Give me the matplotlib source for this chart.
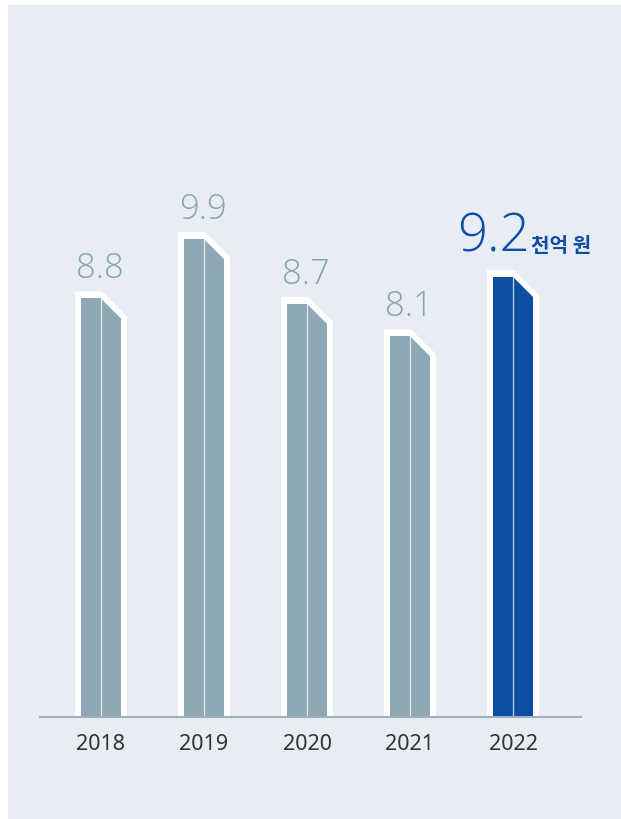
import matplotlib
matplotlib.use('Agg')
import matplotlib.pyplot as plt
from matplotlib.patches import Polygon, Rectangle
from matplotlib import font_manager as fm

# ---- data ----
years = ['2018', '2019', '2020', '2021', '2022']
values = [8.8, 9.9, 8.7, 8.1, 9.2]
value_labels = ['8.8', '9.9', '8.7', '8.1', '9.2']
unit_label = '천억 원'
y_floor = 1.05  # value at the axis line (axis does not start at zero)

# ---- style ----
BG = '#e8edf5'
GRAY = '#8fa8b5'
BLUE = '#0c4ea2'
LABEL_GRAY = '#8ba3b0'
LABEL_BLUE = '#0d4ea3'
AXIS = '#9fb0bd'


def _w(f):
    w = f.weight
    if isinstance(w, str):
        w = fm.weight_dict.get(w, 400)
    return w


def _normal_stretch(f):
    s = f.stretch
    if isinstance(s, str):
        return s == 'normal'
    return s == 500


def light_font():
    prefs = ['Noto Sans', 'Open Sans', 'Lato', 'Roboto', 'Inter']
    for fam in prefs:
        cands = []
        for f in fm.fontManager.ttflist:
            if f.name != fam or f.style != 'normal':
                continue
            fn = f.fname.lower()
            if 'condensed' in fn or 'narrow' in fn or 'italic' in fn:
                continue
            if not _normal_stretch(f):
                continue
            w = _w(f)
            if w < 400:
                cands.append((abs(w - 300), f.fname))
        if cands:
            cands.sort()
            return fm.FontProperties(fname=cands[0][1])
    return fm.FontProperties(family='DejaVu Sans', weight='light')


W, H, DPI = 621, 819, 100
fig = plt.figure(figsize=(W / DPI, H / DPI), dpi=DPI)
fig.patch.set_facecolor('white')
bg = Rectangle((8 / W, 0), 1 - 8 / W, 1 - 5 / H, transform=fig.transFigure,
               facecolor=BG, edgecolor='none', zorder=-10)
fig.add_artist(bg)

# axes layout in pixels
ax_left, ax_right, ax_base, ax_top = 40, 581, 717, 100
ax = fig.add_axes([ax_left / W, (H - ax_base) / H, (ax_right - ax_left) / W, (ax_base - ax_top) / H])
ax.set_facecolor('none')
ax.set_zorder(1)

SX = 103.0   # px per category
SY = 54.0    # px per value unit
x0 = -(101 - ax_left) / SX
ax.set_xlim(x0, x0 + (ax_right - ax_left) / SX)
ax.set_ylim(y_floor, y_floor + (ax_base - ax_top) / SY)

def px(dx):
    return dx / SX

def py(dy):
    return dy / SY

light = light_font()
b = y_floor

for i, (v, lab) in enumerate(zip(values, value_labels)):
    c = i
    last = (i == len(values) - 1)
    col = BLUE if last else GRAY
    # white outline
    outer = [(c - px(26), b), (c - px(26), v + py(7)), (c + px(1), v + py(7)),
             (c + px(26), v - py(18)), (c + px(26), b)]
    ax.add_patch(Polygon(outer, closed=True, facecolor='white', edgecolor='none', zorder=2))
    left = [(c - px(20), b), (c - px(20), v), (c, v), (c, b)]
    right = [(c, b), (c, v), (c + px(20), v - py(20)), (c + px(20), b)]
    ax.add_patch(Polygon(left, closed=True, facecolor=col, edgecolor='none', zorder=3))
    ax.add_patch(Polygon(right, closed=True, facecolor=col, edgecolor='none', zorder=3))
    ax.plot([c, c], [b, v], color='white', lw=0.9, alpha=0.75, zorder=4, solid_capstyle='butt')

    if not last:
        ax.text(c - px(1), v + py(20), lab, ha='center', va='baseline',
                fontproperties=light, fontsize=25, color=LABEL_GRAY, zorder=5)
    else:
        ax.text(c + px(17), v + py(25), lab, ha='right', va='baseline',
                fontproperties=light, fontsize=38, color=LABEL_BLUE, zorder=5)
        ax.text(c + px(18), v + py(25), unit_label, ha='left', va='baseline',
                family=['Noto Sans CJK KR', 'DejaVu Sans'], fontweight='bold',
                fontsize=14.5, color=LABEL_BLUE, zorder=5)

for s in ['top', 'right', 'left']:
    ax.spines[s].set_visible(False)
ax.spines['bottom'].set_color(AXIS)
ax.spines['bottom'].set_linewidth(1.5)
ax.spines['bottom'].set_zorder(6)
ax.set_yticks([])
ax.set_xticks(range(len(years)))
ax.set_xticklabels(years, family=['Noto Sans', 'DejaVu Sans'], fontsize=15.5, color='#333333')
ax.tick_params(axis='x', length=0, pad=12)

fig.savefig('out.png', dpi=DPI, facecolor='white')
